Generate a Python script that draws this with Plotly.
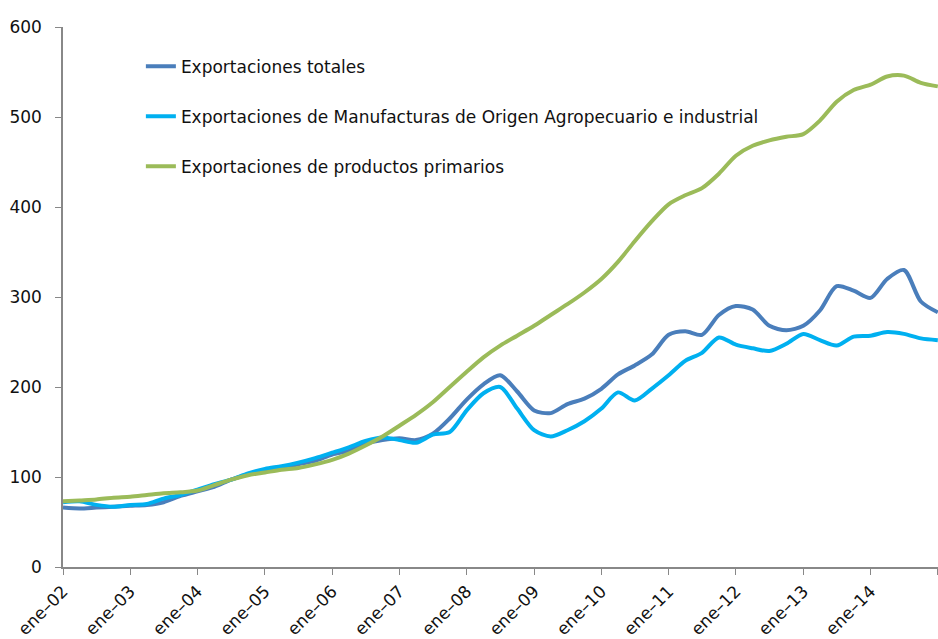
import plotly.graph_objects as go

# quarterly observations, Jan 2002 .. Jan 2015
months = [f"{y}-{m:02d}-01" for y in range(2002, 2016) for m in (1, 4, 7, 10)][:53]

totales = [66, 65, 66, 67, 68, 69, 72, 79, 84, 89, 97, 103, 108, 110, 114, 118,
           125, 129, 137, 141, 143, 141, 148, 165, 186, 203, 213, 195, 174, 171,
           181, 187, 198, 214, 224, 236, 258, 262, 258, 280, 290, 286, 268, 263,
           268, 285, 312, 307, 299, 320, 330, 295, 283]

manufacturas = [72, 73, 69, 67, 69, 70, 76, 80, 86, 92, 97, 104, 109, 112, 116, 121,
                127, 133, 140, 144, 141, 138, 147, 150, 174, 193, 200, 176, 152, 145,
                152, 162, 176, 194, 185, 198, 213, 229, 238, 255, 247, 243, 240, 248,
                259, 252, 246, 256, 257, 261, 259, 254, 252]

primarios = [73, 74, 75, 77, 78, 80, 82, 83, 85, 91, 97, 102, 105, 108, 110, 114,
             119, 126, 135, 145, 157, 169, 183, 200, 217, 233, 246, 257, 268, 280,
             292, 305, 320, 339, 362, 384, 403, 413, 421, 437, 457, 468, 474, 478,
             481, 496, 517, 530, 536, 545, 546, 538, 534]

tick_dates = [f"{y}-01-01" for y in range(2002, 2016)]
tick_labels = [f"ene\u2013{str(y)[2:]}" for y in range(2002, 2016)]

series = [
    ("Exportaciones totales", totales, "#4a7ebb"),
    ("Exportaciones de Manufacturas de Origen Agropecuario e industrial", manufacturas, "#00b0f0"),
    ("Exportaciones de productos primarios", primarios, "#9bbb59"),
]

fig = go.Figure()
for i, (name, vals, col) in enumerate(series):
    fig.add_trace(go.Scatter(
        x=months, y=vals, name=name, mode="lines",
        line=dict(color=col, width=4, shape="spline", smoothing=0.8),
        legendgroup=f"g{i}",
    ))

fig.update_layout(
    width=938, height=639,
    margin=dict(l=63, r=0, t=27, b=69),
    paper_bgcolor="white", plot_bgcolor="white",
    font=dict(family="DejaVu Sans", size=17, color="#111111"),
    showlegend=True,
    legend=dict(x=0.089, y=0.96, xanchor="left", yanchor="top",
                bgcolor="rgba(0,0,0,0)", tracegroupgap=25,
                font=dict(size=17), itemwidth=30),
    xaxis=dict(
        range=["2002-01-01", "2015-01-02"],
        tickmode="array", tickvals=tick_dates, ticktext=tick_labels,
        tickangle=-45, ticks="outside", ticklen=6, tickcolor="#888888",
        showline=True, linecolor="#888888", linewidth=1.5,
        showgrid=False, zeroline=False,
        tickfont=dict(size=17),
    ),
    yaxis=dict(
        range=[0, 600], tickvals=[0, 100, 200, 300, 400, 500, 600],
        ticks="outside", ticklen=6, tickcolor="#888888",
        showline=True, linecolor="#888888", linewidth=1.5,
        showgrid=False, zeroline=False, ticklabelstandoff=10,
        tickfont=dict(size=17),
    ),
)

fig.write_html("out.html", config={"displayModeBar": False},
               post_script="document.body.style.margin='0';document.body.style.overflow='hidden';")
